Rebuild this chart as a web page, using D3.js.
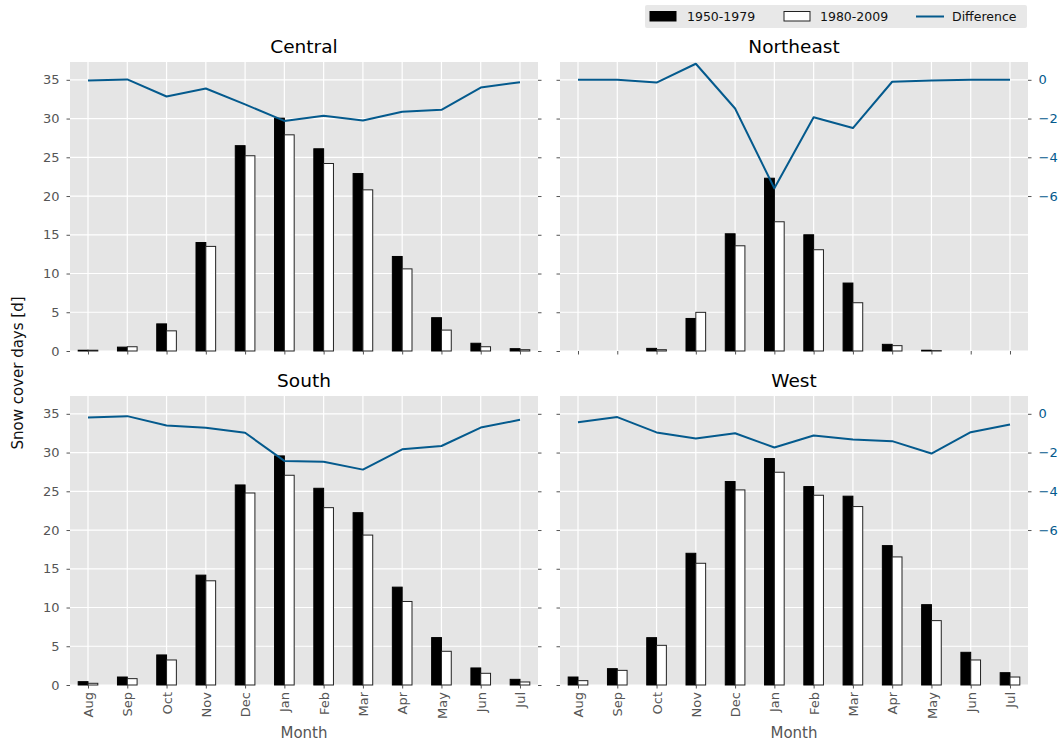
<!DOCTYPE html>
<html>
<head>
<meta charset="utf-8">
<script src="https://cdn.jsdelivr.net/npm/d3@7"></script>
<style>
  html, body { margin: 0; padding: 0; background: #ffffff; }
  svg { display: block; font-family: "DejaVu Sans", sans-serif; }
</style>
</head>
<body>
<svg id="chart" width="1059" height="742"></svg>
<script>
// Monthly snow cover days per region, two climate periods, plus the change between them
const months = ["Aug", "Sep", "Oct", "Nov", "Dec", "Jan", "Feb", "Mar", "Apr", "May", "Jun", "Jul"];
const seriesNames = ["1950-1979", "1980-2009", "Difference"];

const centralEarly = [0.1, 0.5, 3.5, 14.0, 26.5, 30.05, 26.1, 22.9, 12.2, 4.3, 1.0, 0.3];
const centralLate  = [0.1, 0.55, 2.6, 13.5, 25.2, 27.9, 24.2, 20.8, 10.6, 2.7, 0.55, 0.17];
const centralDiff  = [-0.03, 0.02, -0.86, -0.45, -1.27, -2.12, -1.86, -2.1, -1.65, -1.55, -0.4, -0.12];

const northeastEarly = [0, 0, 0.34, 4.2, 15.13, 22.3, 15.0, 8.77, 0.86, 0.1, 0, 0];
const northeastLate  = [0, 0, 0.17, 4.99, 13.58, 16.68, 13.07, 6.23, 0.69, 0.05, 0, 0];
const northeastDiff  = [0, 0, -0.14, 0.83, -1.48, -5.6, -1.93, -2.49, -0.1, -0.03, 0, 0];

const southEarly = [0.43, 1.03, 3.88, 14.18, 25.82, 29.57, 25.39, 22.24, 12.63, 6.12, 2.2, 0.73];
const southLate  = [0.22, 0.82, 3.23, 13.45, 24.78, 27.07, 22.89, 19.35, 10.78, 4.35, 1.51, 0.39];
const southDiff  = [-0.19, -0.12, -0.6, -0.72, -0.98, -2.43, -2.47, -2.88, -1.83, -1.66, -0.71, -0.31];

const westEarly = [1.03, 2.11, 6.11, 17.0, 26.26, 29.23, 25.61, 24.37, 17.99, 10.37, 4.22, 1.59];
const westLate  = [0.56, 1.89, 5.12, 15.71, 25.18, 27.46, 24.49, 23.03, 16.53, 8.31, 3.23, 1.03];
const westDiff  = [-0.43, -0.17, -0.96, -1.27, -1.0, -1.74, -1.12, -1.33, -1.41, -2.05, -0.95, -0.55];

const leftTicks = [0, 5, 10, 15, 20, 25, 30, 35];
const diffTicksAll = [-14, -12, -10, -8, -6, -4, -2, 0];
const diffTicksShown = [-6, -4, -2, 0];

const panels = [
  { title: "Central",   early: centralEarly,   late: centralLate,   diff: centralDiff,   row: 0, col: 0 },
  { title: "Northeast", early: northeastEarly, late: northeastLate, diff: northeastDiff, row: 0, col: 1 },
  { title: "South",     early: southEarly,     late: southLate,     diff: southDiff,     row: 1, col: 0 },
  { title: "West",      early: westEarly,      late: westLate,      diff: westDiff,      row: 1, col: 1 }
];

// Layout
const colX = [[70, 538], [560, 1028]];
const rowY = [[62, 351], [396, 685]];
const bg = "#e5e5e5";
const tickGray = "#555555";
const lineBlue = "#045a8d";
const barW = 0.25;

const svg = d3.select("#chart");

function styleAxis(g) {
  g.select(".domain").remove();
  g.selectAll(".tick line").attr("stroke", tickGray).attr("stroke-width", 1);
  g.selectAll(".tick text").attr("fill", tickGray).style("font-size", "13px")
    .style("font-family", "DejaVu Sans, sans-serif");
}

panels.forEach(p => {
  const [x0, x1] = colX[p.col];
  const [y0, y1] = rowY[p.row];

  const x = d3.scaleLinear().domain([-0.4585, 11.4585]).range([x0, x1]);
  const y = d3.scaleLinear().domain([0, 37.3]).range([y1, y0]);
  const yR = d3.scaleLinear().domain([-14, 0.92]).range([y1, y0]);

  const g = svg.append("g");

  // Panel background
  g.append("rect").attr("x", x0).attr("y", y0)
    .attr("width", x1 - x0).attr("height", y1 - y0).attr("fill", bg);

  // Grid
  g.selectAll("line.hgrid").data(leftTicks).join("line")
    .attr("class", "hgrid")
    .attr("x1", x0).attr("x2", x1)
    .attr("y1", d => y(d)).attr("y2", d => y(d))
    .attr("stroke", "#ffffff").attr("stroke-width", 1.2);
  g.selectAll("line.vgrid").data(d3.range(months.length)).join("line")
    .attr("class", "vgrid")
    .attr("x1", d => x(d)).attr("x2", d => x(d))
    .attr("y1", y0).attr("y2", y1)
    .attr("stroke", "#ffffff").attr("stroke-width", 1.2);

  // Bars: earlier period (black) left of each month, later period (white) right of it
  g.selectAll("rect.early").data(p.early).join("rect")
    .attr("class", "early")
    .attr("x", (d, i) => x(i - barW))
    .attr("width", x(barW) - x(0))
    .attr("y", d => y(d))
    .attr("height", d => y(0) - y(d))
    .attr("fill", "#000000")
    .attr("stroke", "#000000").attr("stroke-width", d => d > 0 ? 1 : 0);
  g.selectAll("rect.late").data(p.late).join("rect")
    .attr("class", "late")
    .attr("x", (d, i) => x(i))
    .attr("width", x(barW) - x(0))
    .attr("y", d => y(d))
    .attr("height", d => y(0) - y(d))
    .attr("fill", "#ffffff")
    .attr("stroke", "#222222").attr("stroke-width", d => d > 0 ? 1 : 0);

  // Difference line on the secondary axis
  const line = d3.line().x((d, i) => x(i)).y(d => yR(d));
  g.append("path").datum(p.diff)
    .attr("d", line)
    .attr("fill", "none")
    .attr("stroke", lineBlue)
    .attr("stroke-width", 2)
    .attr("stroke-linejoin", "round");

  // Left axis
  const axL = d3.axisLeft(y).tickValues(leftTicks).tickSize(3.5).tickPadding(7);
  if (p.col === 1) axL.tickFormat("");
  g.append("g").attr("transform", `translate(${x0},0)`).call(axL).call(styleAxis);

  // Right axis
  const axR = p.col === 1
    ? d3.axisRight(yR).tickValues(diffTicksShown).tickSize(3.5).tickPadding(7).tickFormat(d3.format("d"))
    : d3.axisRight(yR).tickValues(diffTicksAll).tickSize(3.5).tickPadding(7).tickFormat("");
  const gR = g.append("g").attr("transform", `translate(${x1},0)`).call(axR).call(styleAxis);
  gR.selectAll(".tick text").attr("fill", lineBlue);

  // Bottom axis
  const axB = d3.axisBottom(x).tickValues(d3.range(months.length)).tickSize(3.5)
    .tickFormat(p.row === 1 ? (i => months[i]) : "");
  const gB = g.append("g").attr("transform", `translate(0,${y1})`).call(axB).call(styleAxis);
  if (p.row === 1) {
    gB.selectAll(".tick text")
      .attr("transform", "rotate(-90)")
      .attr("text-anchor", "end")
      .attr("x", -7).attr("y", 0).attr("dy", "0.35em");
    g.append("text")
      .attr("x", (x0 + x1) / 2).attr("y", 738)
      .attr("text-anchor", "middle")
      .attr("fill", tickGray)
      .style("font-size", "15px")
      .text("Month");
  }

  // Title
  g.append("text")
    .attr("x", (x0 + x1) / 2).attr("y", y0 - 9)
    .attr("text-anchor", "middle")
    .attr("fill", "#000000")
    .style("font-size", "18.5px")
    .text(p.title);
});

// Shared y label
svg.append("text")
  .attr("transform", "translate(18,373) rotate(-90)")
  .attr("text-anchor", "middle")
  .attr("dominant-baseline", "central")
  .attr("fill", "#111111")
  .style("font-size", "15px")
  .text("Snow cover days [d]");

// Legend
const legend = svg.append("g");
legend.append("rect").attr("x", 645).attr("y", 5).attr("width", 382).attr("height", 23)
  .attr("fill", "#e8e8e8").attr("rx", 2);
const swatchX = [650, 784, 916];
const labelX = [687, 820, 952];
legend.append("rect").attr("x", swatchX[0]).attr("y", 11.5).attr("width", 26).attr("height", 9.5)
  .attr("fill", "#000000").attr("stroke", "#000000").attr("stroke-width", 1);
legend.append("rect").attr("x", swatchX[1]).attr("y", 11.5).attr("width", 26).attr("height", 9.5)
  .attr("fill", "#ffffff").attr("stroke", "#222222").attr("stroke-width", 1);
legend.append("line").attr("x1", swatchX[2]).attr("x2", swatchX[2] + 28)
  .attr("y1", 16.5).attr("y2", 16.5)
  .attr("stroke", lineBlue).attr("stroke-width", 2);
seriesNames.forEach((name, i) => {
  legend.append("text").attr("x", labelX[i]).attr("y", 21)
    .attr("fill", "#111111").style("font-size", "12.5px").text(name);
});
</script>
</body>
</html>
